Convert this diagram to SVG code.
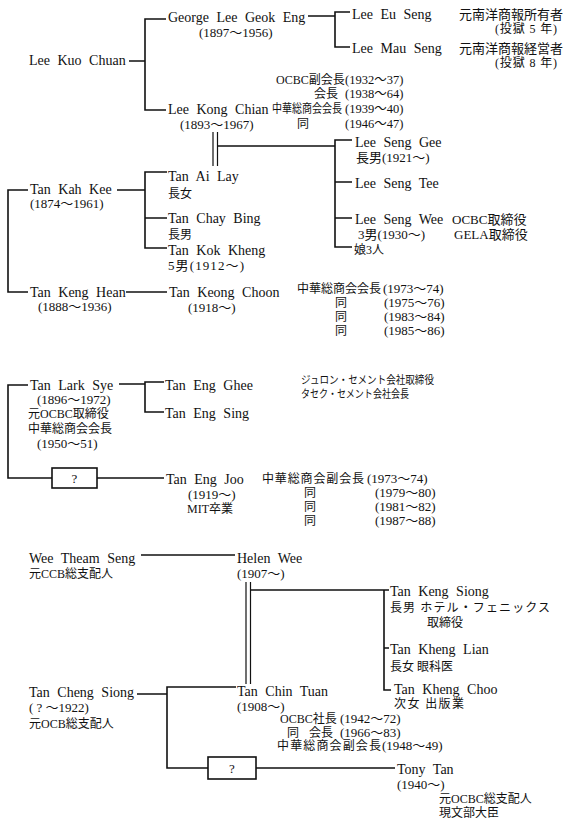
<svg xmlns="http://www.w3.org/2000/svg" width="564" height="824" viewBox="0 0 564 824">
<style>
text { font-family: "Liberation Serif", "Noto Sans CJK JP", serif; fill: #111; }
.n { font-size: 14px; word-spacing: 4px; }
.s { font-size: 13px; }
.d { font-size: 12.5px; }
.j { font-size: 12px; }
.k { font-size: 11px; }
.ln { stroke: #111; stroke-width: 1.6; fill: none; }
.dl { stroke: #111; stroke-width: 1.2; fill: none; }
.box { fill: #fff; stroke: #111; stroke-width: 1.6; }
</style>
<rect width="564" height="824" fill="#fff"/>
<g id="connectors">
  <path class="ln" d="M129,61 H145 M166,19 H145 V110 H166"/>
  <path class="ln" d="M308,16 H335 M350,12 H335 V47 H350"/>
  <path class="dl" d="M213,132 V166 M217.5,132 V166"/>
  <path class="ln" d="M217.5,146 H335 M352,140 H335 V247 H352 M335,182 H352 M335,218 H352"/>
  <path class="ln" d="M28,190 H8 V292 H28 M117,190 H145 M167,172 H145 V248 H167 M145,218 H167"/>
  <path class="ln" d="M126,292 H167"/>
  <path class="ln" d="M28,385 H8 V478 H52 M97,478 H164 M119,384 H145 M164,382 H145 V412 H164"/>
  <rect class="box" x="52" y="468" width="45" height="20"/>
  <path class="ln" d="M141,555 H235"/>
  <path class="dl" d="M246,582 V684 M250.5,582 V684"/>
  <path class="ln" d="M250.5,590 H389 M384,590 V690 H391 M384,648 H389"/>
  <path class="ln" d="M137,694 H167 M236,687 H167 V768 H208 M256,768 H395"/>
  <rect class="box" x="208" y="757" width="48" height="22"/>
</g>
<g id="lee-kuo-chuan"><text class="n" x="29" y="65">Lee Kuo Chuan</text></g>
<g id="george-lee-geok-eng">
  <text class="n" x="168" y="22">George Lee Geok Eng</text>
  <text class="s" x="199" y="37">(1897～1956)</text>
</g>
<g id="lee-eu-seng">
  <text class="n" x="352" y="19">Lee Eu Seng</text>
  <text class="s" x="459" y="19">元南洋商報所有者</text>
  <text class="j" x="495" y="33" textLength="62">(投獄 5 年)</text>
</g>
<g id="lee-mau-seng">
  <text class="n" x="352" y="53">Lee Mau Seng</text>
  <text class="s" x="459" y="53">元南洋商報経営者</text>
  <text class="j" x="495" y="67" textLength="62">(投獄 8 年)</text>
</g>
<g id="lee-kong-chian">
  <text class="n" x="168" y="114">Lee Kong Chian</text>
  <text class="s" x="180" y="129">(1893～1967)</text>
  <text class="j" x="276" y="84">OCBC副会長</text>
  <text class="d" x="345" y="84">(1932～37)</text>
  <text class="j" x="314" y="98">会長</text>
  <text class="d" x="345" y="98">(1938～64)</text>
  <text class="j" x="272" y="113" textLength="70" lengthAdjust="spacingAndGlyphs">中華総商会会長</text>
  <text class="d" x="345" y="113">(1939～40)</text>
  <text class="j" x="297" y="128">同</text>
  <text class="d" x="345" y="128">(1946～47)</text>
</g>
<g id="lee-seng-gee">
  <text class="n" x="355" y="147">Lee Seng Gee</text>
  <text class="s" x="356" y="162">長男(1921～)</text>
</g>
<g id="lee-seng-tee"><text class="n" x="355" y="188">Lee Seng Tee</text></g>
<g id="lee-seng-wee">
  <text class="n" x="355" y="224">Lee Seng Wee</text>
  <text class="s" x="452" y="224">OCBC取締役</text>
  <text class="s" x="358" y="239">3男(1930～)</text>
  <text class="s" x="454" y="239">GELA取締役</text>
</g>
<g id="daughters-3"><text class="j" x="354" y="254">娘3人</text></g>
<g id="tan-kah-kee">
  <text class="n" x="30" y="194">Tan Kah Kee</text>
  <text class="s" x="30" y="208">(1874～1961)</text>
</g>
<g id="tan-ai-lay">
  <text class="n" x="168" y="181">Tan Ai Lay</text>
  <text class="j" x="168" y="198">長女</text>
</g>
<g id="tan-chay-bing">
  <text class="n" x="168" y="223">Tan Chay Bing</text>
  <text class="j" x="168" y="239">長男</text>
</g>
<g id="tan-kok-kheng">
  <text class="n" x="168" y="255">Tan Kok Kheng</text>
  <text class="s" x="168" y="270" textLength="76">5男(1912～)</text>
</g>
<g id="tan-keng-hean">
  <text class="n" x="30" y="297">Tan Keng Hean</text>
  <text class="s" x="38" y="311">(1888～1936)</text>
</g>
<g id="tan-keong-choon">
  <text class="n" x="169" y="297">Tan Keong Choon</text>
  <text class="s" x="188" y="312">(1918～)</text>
  <text class="j" x="297" y="293" textLength="84">中華総商会会長</text>
  <text class="s" x="383" y="293">(1973～74)</text>
  <text class="j" x="335" y="307">同</text>
  <text class="s" x="384" y="307">(1975～76)</text>
  <text class="j" x="335" y="321">同</text>
  <text class="s" x="384" y="321">(1983～84)</text>
  <text class="j" x="335" y="335">同</text>
  <text class="s" x="384" y="335">(1985～86)</text>
</g>
<g id="tan-lark-sye">
  <text class="n" x="30" y="390">Tan Lark Sye</text>
  <text class="s" x="37" y="404">(1896～1972)</text>
  <text class="j" x="28" y="418">元OCBC取締役</text>
  <text class="j" x="28" y="433">中華総商会会長</text>
  <text class="s" x="37" y="448">(1950～51)</text>
</g>
<g id="tan-eng-ghee">
  <text class="n" x="165" y="390">Tan Eng Ghee</text>
  <text class="k" x="301" y="384" textLength="133" lengthAdjust="spacingAndGlyphs">ジュロン・セメント会社取締役</text>
  <text class="k" x="301" y="398" textLength="108" lengthAdjust="spacingAndGlyphs">タセク・セメント会社会長</text>
</g>
<g id="tan-eng-sing"><text class="n" x="165" y="418">Tan Eng Sing</text></g>
<g id="unknown-1"><text class="s" x="74.5" y="483" text-anchor="middle">?</text></g>
<g id="tan-eng-joo">
  <text class="n" x="166" y="484">Tan Eng Joo</text>
  <text class="s" x="188" y="499">(1919～)</text>
  <text class="j" x="187" y="513">MIT卒業</text>
  <text class="j" x="262" y="483" textLength="102">中華総商会副会長</text>
  <text class="s" x="367" y="483">(1973～74)</text>
  <text class="j" x="304" y="497">同</text>
  <text class="s" x="375" y="497">(1979～80)</text>
  <text class="j" x="304" y="511">同</text>
  <text class="s" x="375" y="511">(1981～82)</text>
  <text class="j" x="304" y="525">同</text>
  <text class="s" x="375" y="525">(1987～88)</text>
</g>
<g id="wee-theam-seng">
  <text class="n" x="29" y="563">Wee Theam Seng</text>
  <text class="j" x="29" y="578">元CCB総支配人</text>
</g>
<g id="helen-wee">
  <text class="n" x="237" y="563">Helen Wee</text>
  <text class="s" x="237" y="578">(1907～)</text>
</g>
<g id="tan-keng-siong">
  <text class="n" x="390" y="596">Tan Keng Siong</text>
  <text class="j" x="390" y="612" textLength="160">長男 ホテル・フェニックス</text>
  <text class="j" x="427" y="627">取締役</text>
</g>
<g id="tan-kheng-lian">
  <text class="n" x="390" y="654">Tan Kheng Lian</text>
  <text class="j" x="390" y="671">長女 眼科医</text>
</g>
<g id="tan-kheng-choo">
  <text class="n" x="394" y="694">Tan Kheng Choo</text>
  <text class="j" x="394" y="708" textLength="70">次女 出版業</text>
</g>
<g id="tan-cheng-siong">
  <text class="n" x="29" y="697">Tan Cheng Siong</text>
  <text class="s" x="29" y="712">( ? ～1922)</text>
  <text class="j" x="29" y="728">元OCB総支配人</text>
</g>
<g id="tan-chin-tuan">
  <text class="n" x="237" y="696">Tan Chin Tuan</text>
  <text class="s" x="237" y="711">(1908～)</text>
  <text class="j" x="280" y="723">OCBC社長</text>
  <text class="s" x="340" y="723">(1942～72)</text>
  <text class="j" x="287" y="737">同</text>
  <text class="j" x="309" y="737">会長</text>
  <text class="s" x="340" y="737">(1966～83)</text>
  <text class="j" x="277" y="750" textLength="104">中華総商会副会長</text>
  <text class="s" x="382" y="750">(1948～49)</text>
</g>
<g id="unknown-2"><text class="s" x="232" y="773" text-anchor="middle">?</text></g>
<g id="tony-tan">
  <text class="n" x="397" y="774">Tony Tan</text>
  <text class="s" x="397" y="789">(1940～)</text>
  <text class="j" x="439" y="803">元OCBC総支配人</text>
  <text class="j" x="439" y="817">現文部大臣</text>
</g>
</svg>
